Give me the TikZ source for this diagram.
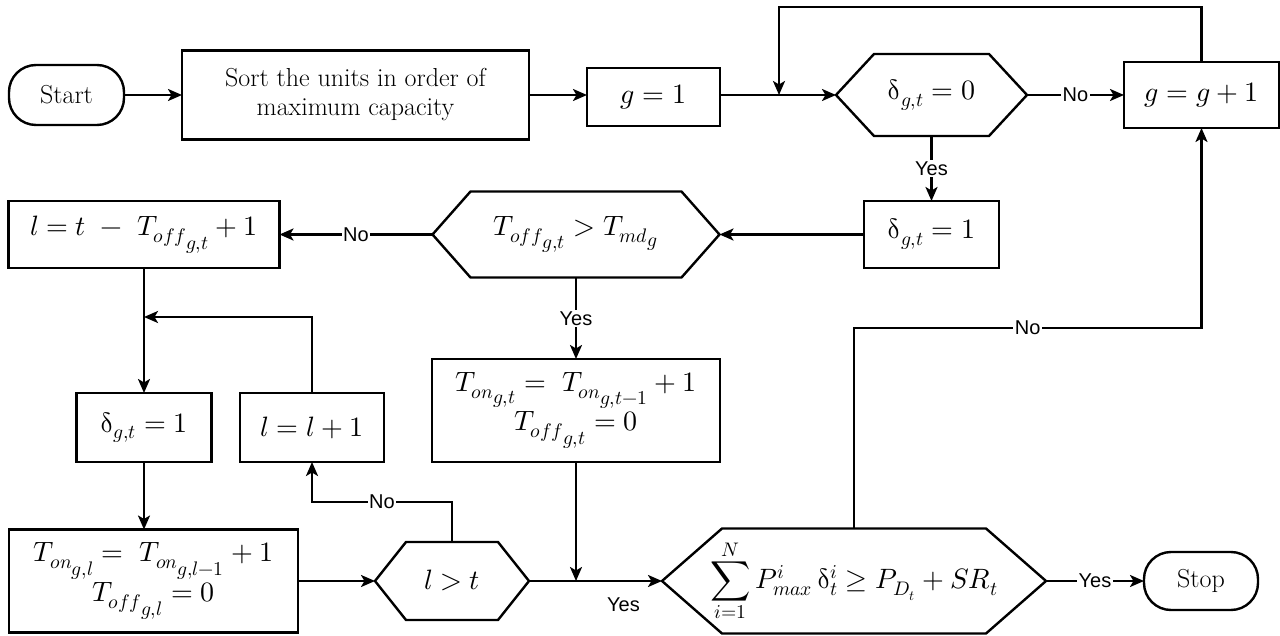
\documentclass[tikz,border=0pt]{standalone}
\usepackage{fontspec}
\usepackage{unicode-math}
\setmathfont{Latin Modern Math}
\usetikzlibrary{arrows.meta,calc}
\newfontfamily\labfont{Liberation Sans}
\newcommand\dlt{\symup{\delta}}
\newcommand\txtsize{\fontsize{26}{29}\selectfont}
\newcommand\mathsize{\fontsize{28}{36}\selectfont}
\newcommand\sub[1]{{\scriptstyle #1}}
\newcommand\hexdraw[2]{\draw[shapeline] ($(#1.north west)+(#2,0)$) -- ($(#1.north east)+(-#2,0)$) -- (#1.east) -- ($(#1.south east)+(-#2,0)$) -- ($(#1.south west)+(#2,0)$) -- (#1.west) -- cycle;}
\begin{document}
\begin{tikzpicture}[x=1pt,y=1pt,
  every node/.style={inner sep=0pt, outer sep=0pt},
  shapeline/.style={line width=2.4pt, line join=miter},
  box/.style={draw, shapeline, font=\mathsize, align=center},
  term/.style={draw, shapeline, rounded corners=27pt, font=\txtsize},
  hexnode/.style={font=\mathsize, align=center},
  arr/.style={line width=2.4pt, -{Stealth[length=14pt,width=12pt,inset=3.5pt]}},
  lab/.style={font=\labfont\fontsize{20}{20}\selectfont, fill=white, inner sep=1.5pt},
  labplain/.style={font=\labfont\fontsize{20}{20}\selectfont}
]
\fill[white] (0,0) rectangle (1280,-636);
\useasboundingbox (0,0) rectangle (1280,-636);

% nodes
\node[term, minimum width=115, minimum height=60] (start) at (66.5,-95) {Start};
\node[box, font=\txtsize, minimum width=347, minimum height=89] (sort) at (355.5,-95) {Sort the units in order of\\maximum capacity};
\node[box, minimum width=133, minimum height=58] (g1) at (653.5,-97) {$g = 1$};
\node[hexnode, minimum width=191, minimum height=82] (d0) at (931.5,-95) {$\dlt_{g,t} = 0$};
\hexdraw{d0}{38}
\node[box, minimum width=155, minimum height=66] (gp1) at (1201.5,-95) {$g = g + 1$};
\node[box, minimum width=135, minimum height=67] (d1r) at (931.5,-234.5) {$\dlt_{g,t} = 1$};
\node[hexnode, minimum width=287, minimum height=86] (toff) at (576,-234.5) {$T_{{off}_{\sub{g,t}}} > T_{{md}_{\sub{g}}}$};
\hexdraw{toff}{38}
\node[box, minimum width=271, minimum height=67] (lbox) at (144,-234.5) {$l = t\ -\ T_{{off}_{\sub{g,t}}} + 1$};
\node[box, minimum width=135, minimum height=69] (dl) at (144,-427.5) {$\dlt_{g,t} = 1$};
\node[box, minimum width=144, minimum height=69] (lp1) at (312,-427.5) {$l = l + 1$};
\node[box, minimum width=288, minimum height=103] (tont) at (576,-410.5) {$T_{{on}_{\sub{g,t}}} =\ T_{{on}_{\sub{g,t-1}}} + 1$\\[2pt]$T_{{off}_{\sub{g,t}}} = 0$};
\node[box, minimum width=289, minimum height=103] (tonl) at (153.5,-581) {$T_{{on}_{\sub{g,l}}} =\ T_{{on}_{\sub{g,l-1}}} + 1$\\[2pt]$T_{{off}_{\sub{g,l}}} = 0$};
\node[hexnode, minimum width=154, minimum height=78] (lgt) at (452,-581) {$l > t$};
\hexdraw{lgt}{31}
\node[hexnode, minimum width=384, minimum height=105] (sum) at (854,-581) {$\displaystyle\sum_{i=1}^{N} P^{i}_{max}\,\dlt^{i}_{t} \geq P_{D_t} + SR_t$};
\hexdraw{sum}{60}
\node[term, minimum width=114, minimum height=58] (stop) at (1201,-581) {Stop};

% helper coordinates
\coordinate (jtop) at (779,-95);
\coordinate (ltop) at (779,-7);
\coordinate (jl) at (144,-317);
\coordinate (lno) at (312,-502);
\coordinate (jy) at (576,-581);
\coordinate (nob) at (854,-328);

% connectors
\draw[arr] (start.east) -- (sort.west);
\draw[arr] (sort.east) -- (g1.west |- sort.east);
\draw[arr] (g1.east |- d0.west) -- (d0.west);
\draw[arr] (d0.east) -- node[lab]{No} (gp1.west);
\draw[arr] (gp1.north) |- (ltop) -- (jtop);
\draw[arr] (d0.south) -- node[lab]{Yes} (d1r.north);
\draw[arr] (d1r.west) -- (toff.east);
\draw[arr] (toff.west) -- node[lab]{No} (lbox.east);
\draw[arr] (toff.south) -- node[lab]{Yes} (tont.north);
\draw[arr] (lbox.south) -- (dl.north);
\draw[arr] (lp1.north) |- (jl);
\draw[arr] (dl.south) -- (dl.south |- tonl.north);
\draw[arr] (tonl.east) -- (lgt.west);
\draw[arr] (lgt.north) |- node[lab, pos=0.75]{No} (lno) -- (lp1.south);
\draw[arr] (lgt.east) -- node[labplain, pos=0.71, yshift=-24pt]{Yes} (sum.west);
\draw[arr] (tont.south) -- (jy);
\draw[arr] (sum.north) -- (nob) -| node[lab, pos=0.25]{No} (gp1.south);
\draw[arr] (sum.east) -- node[lab]{Yes} (stop.west);
\end{tikzpicture}
\end{document}
